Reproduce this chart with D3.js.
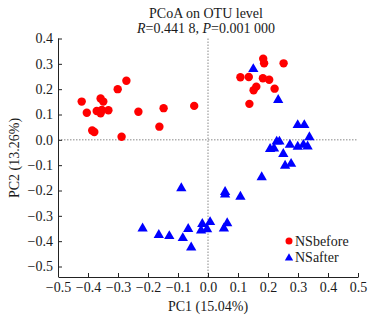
<!DOCTYPE html>
<html>
<head>
<meta charset="utf-8">
<script src="https://cdn.jsdelivr.net/npm/d3@7"></script>
<style>
  html, body { margin: 0; padding: 0; background: #fff; }
  svg { display: block; font-family: "Liberation Serif", "Times New Roman", serif; }
</style>
</head>
<body>
<svg id="chart" width="379" height="322"></svg>
<script>
// PCoA scores
const nsBeforePC1 = [-0.421, -0.404, -0.386, -0.379, -0.358, -0.349, -0.371, -0.354, -0.358, -0.332,
    -0.301, -0.272, -0.288, -0.232, -0.162, -0.148, -0.046,
    0.184, 0.187, 0.252, 0.108, 0.136, 0.183, 0.204, 0.161, 0.152, 0.222, 0.138];
const nsBeforePC2 = [0.151, 0.107, 0.037, 0.031, 0.163, 0.151, 0.114, 0.118, 0.105, 0.117,
    0.200, 0.233, 0.012, 0.111, 0.052, 0.125, 0.134,
    0.320, 0.302, 0.302, 0.247, 0.248, 0.243, 0.237, 0.210, 0.196, 0.202, 0.142];

const nsAfterPC1 = [0.151, 0.234,
    0.299, 0.321, 0.338, 0.229, 0.238, 0.207, 0.220, 0.273, 0.299, 0.318, 0.332, 0.251, 0.257, 0.277,
    0.179, 0.057, 0.057, 0.108,
    -0.019, 0.007, -0.023, -0.003, 0.064, 0.053,
    -0.089, -0.218, -0.164, -0.129, -0.084, -0.066, -0.056];
const nsAfterPC2 = [0.285, 0.163,
    0.064, 0.064, 0.016, -0.001, -0.001, -0.030, -0.028, -0.014, -0.021, -0.014, -0.020, -0.050, -0.096, -0.089,
    -0.142, -0.200, -0.210, -0.219,
    -0.326, -0.319, -0.352, -0.347, -0.323, -0.344,
    -0.185, -0.344, -0.370, -0.374, -0.382, -0.346, -0.419];

const xTicks = d3.range(-5, 6).map(d => d / 10);
const yTicks = d3.range(-5, 5).map(d => d / 10);

const groups = ["NSbefore", "NSafter"];
const colors = ["#ff0000", "#0000ff"];

const svg = d3.select("#chart");

const plotLeft = 58, plotRight = 358, plotTop = 38.5, lowTick = 266.5, axisY = 277;

const x = d3.scaleLinear().domain([-0.5, 0.5]).range([plotLeft, plotRight]);
const y = d3.scaleLinear().domain([-0.5, 0.4]).range([lowTick, plotTop]);

const fmt = d3.format(".1f");

// dotted zero lines
svg.append("line")
    .attr("x1", x(0)).attr("x2", x(0))
    .attr("y1", plotTop).attr("y2", axisY)
    .attr("stroke", "#888").attr("stroke-width", 1)
    .attr("stroke-dasharray", "1.5,1.5");
svg.append("line")
    .attr("x1", plotLeft).attr("x2", plotRight)
    .attr("y1", y(0)).attr("y2", y(0))
    .attr("stroke", "#888").attr("stroke-width", 1)
    .attr("stroke-dasharray", "1.5,1.5");

// axes
const yAxis = svg.append("g")
    .attr("transform", `translate(${plotLeft},0)`)
    .call(d3.axisLeft(y).tickValues(yTicks).tickFormat(fmt)
        .tickSize(-4).tickSizeOuter(0).tickPadding(5));
yAxis.select(".domain").attr("d", `M0.5,${plotTop}V${axisY}`);

const xAxis = svg.append("g")
    .attr("transform", `translate(0,${axisY})`)
    .call(d3.axisBottom(x).tickValues(xTicks).tickFormat(fmt)
        .tickSize(-4).tickSizeOuter(0).tickPadding(5));

[yAxis, xAxis].forEach(a => a.attr("font-family", "Liberation Serif").attr("font-size", 14));
svg.selectAll(".tick text").attr("fill", "#1a1a1a");
svg.selectAll(".domain, .tick line").attr("stroke", "#222");

// points
const before = nsBeforePC1.map((v, i) => ({pc1: v, pc2: nsBeforePC2[i]}));
const after = nsAfterPC1.map((v, i) => ({pc1: v, pc2: nsAfterPC2[i]}));

svg.append("g").selectAll("circle")
    .data(before)
    .enter()
    .append("circle")
    .attr("cx", d => x(d.pc1))
    .attr("cy", d => y(d.pc2))
    .attr("r", 4.2)
    .attr("fill", colors[0]);

const tri = d3.symbol().type(d3.symbolTriangle).size(46);
svg.append("g").selectAll("path")
    .data(after)
    .enter()
    .append("path")
    .attr("d", tri)
    .attr("transform", d => `translate(${x(d.pc1)},${y(d.pc2) + 1.5})`)
    .attr("fill", colors[1]);

// titles
svg.append("text")
    .attr("x", 206).attr("y", 18)
    .attr("text-anchor", "middle").attr("font-size", 14)
    .attr("fill", "#1a1a1a")
    .text("PCoA on OTU level");
const sub = svg.append("text")
    .attr("x", 206).attr("y", 33)
    .attr("text-anchor", "middle").attr("font-size", 14)
    .attr("fill", "#1a1a1a");
sub.append("tspan").attr("font-style", "italic").text("R");
sub.append("tspan").text("=0.441 8, ");
sub.append("tspan").attr("font-style", "italic").text("P");
sub.append("tspan").text("=0.001 000");

svg.append("text")
    .attr("x", 208).attr("y", 311)
    .attr("text-anchor", "middle").attr("font-size", 14)
    .attr("fill", "#1a1a1a")
    .text("PC1 (15.04%)");
svg.append("text")
    .attr("transform", "translate(19,158) rotate(-90)")
    .attr("text-anchor", "middle").attr("font-size", 14)
    .attr("fill", "#1a1a1a")
    .text("PC2 (13.26%)");

// legend
const legend = svg.append("g");
groups.forEach(function(g, i) {
    const ly = 241 + i * 16;
    if (i === 0) {
        legend.append("circle").attr("cx", 289).attr("cy", ly).attr("r", 3.5).attr("fill", colors[i]);
    } else {
        legend.append("path")
            .attr("d", d3.symbol().type(d3.symbolTriangle).size(30))
            .attr("transform", `translate(289,${ly + 1})`)
            .attr("fill", colors[i]);
    }
    legend.append("text")
        .attr("x", 295).attr("y", ly + 5)
        .attr("font-size", 14)
        .attr("fill", "#1a1a1a")
        .text(g);
});
</script>
</body>
</html>
